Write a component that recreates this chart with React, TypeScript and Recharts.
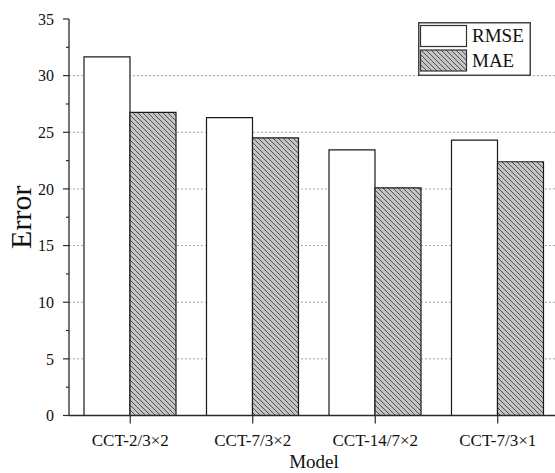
import { BarChart, Bar, XAxis, YAxis, CartesianGrid, Legend } from "recharts";

const models = ["CCT-2/3×2", "CCT-7/3×2", "CCT-14/7×2", "CCT-7/3×1"];
const rmseValues = [31.65, 26.3, 23.45, 24.3];
const maeValues = [26.75, 24.5, 20.1, 22.4];
const seriesOrder = ["RMSE", "MAE"];
const majorTicks = [0, 5, 10, 15, 20, 25, 30, 35];
const minorTicks = [2.5, 7.5, 12.5, 17.5, 22.5, 27.5, 32.5];
const gridValues = [5, 10, 15, 20, 25, 30];
const bandEdges = [0, 1, 2, 3, 4];

const data = models.map((model, i) => ({
  model,
  RMSE: rmseValues[i],
  MAE: maeValues[i],
}));

const SERIF = '"Liberation Serif", "Times New Roman", serif';
const AXIS = "#2b2b2b";
const textStyle = { fontFamily: SERIF };

function LeftTick(props: any) {
  const { x, y, payload } = props;
  const major = payload.value % 5 === 0;
  return (
    <g>
      <line x1={x - (major ? 6 : 3)} x2={x} y1={y} y2={y} stroke={AXIS} strokeWidth={1.2} />
      {major && (
        <text x={x - 15} y={y} dy="0.36em" textAnchor="end" fontSize={16} style={textStyle} fill="#111">
          {payload.value}
        </text>
      )}
    </g>
  );
}

function BottomTick(props: any) {
  const { x, y, payload } = props;
  return (
    <g>
      <line x1={x} x2={x} y1={y} y2={y + 8} stroke={AXIS} strokeWidth={1.2} />
      <text x={x} y={y + 30} textAnchor="middle" fontSize={17} style={textStyle} fill="#111">
        {payload.value}
      </text>
    </g>
  );
}

function YTitle(props: any) {
  const { viewBox } = props;
  const x = viewBox.x + 31;
  const y = viewBox.y + viewBox.height / 2;
  return (
    <text x={x} y={y} transform={`rotate(-90, ${x}, ${y})`} textAnchor="middle" fontSize={30} style={textStyle} fill="#111">
      Error
    </text>
  );
}

function XTitle(props: any) {
  const { viewBox } = props;
  return (
    <text x={viewBox.x + viewBox.width / 2} y={viewBox.y + 52.5} textAnchor="middle" fontSize={19} style={textStyle} fill="#111">
      Model
    </text>
  );
}

function LegendBox(props: any) {
  const items = [...(props.payload || [])].sort(
    (a: any, b: any) => seriesOrder.indexOf(a.value) - seriesOrder.indexOf(b.value),
  );
  return (
    <svg width={113} height={54} style={{ display: "block" }}>
      <rect x={0.75} y={0.75} width={111.5} height={52.5} fill="#fff" stroke="#444" strokeWidth={1.5} />
      {items.map((entry: any, i: number) => (
        <g key={entry.value}>
          <rect x={2.5} y={3.5 + i * 24.5} width={46} height={21} fill={entry.color} stroke="#333" strokeWidth={1.2} />
          <text x={54} y={20 + i * 24.5} fontSize={19} style={textStyle} fill="#111">
            {entry.value}
          </text>
        </g>
      ))}
    </svg>
  );
}

export default function App() {
  return (
    <div
      style={{
        position: "absolute",
        left: 0,
        top: 0,
        width: 555,
        height: 473,
        overflow: "hidden",
        background: "#fff",
        fontFamily: SERIF,
      }}
    >
      <BarChart
        width={580}
        height={473}
        data={data}
        margin={{ top: 19, right: 21, left: 0, bottom: 0 }}
        barCategoryGap={15}
        barGap={0}
      >
        <defs>
          <pattern id="hatch" patternUnits="userSpaceOnUse" width={5} height={5}>
            <rect width={5} height={5} fill="#c4c4c4" />
            <path d="M0,0 L5,5 M-1,4 L1,6 M4,-1 L6,1" stroke="#333" strokeWidth={0.8} />
          </pattern>
        </defs>
        <CartesianGrid vertical={false} horizontalValues={gridValues} stroke="#a6a6a6" strokeDasharray="2 2" />
        <XAxis
          xAxisId="minorBottom"
          type="number"
          domain={[0, 4]}
          ticks={bandEdges}
          allowDataOverflow
          interval={0}
          height={0}
          tick={false}
          tickSize={4}
          axisLine={false}
          stroke={AXIS}
        />
        <XAxis
          dataKey="model"
          height={57.5}
          interval={0}
          tickLine={false}
          tickSize={0}
          tickMargin={0}
          tick={<BottomTick />}
          stroke={AXIS}
          strokeWidth={1.3}
          label={<XTitle />}
        />
        <XAxis
          xAxisId="top"
          orientation="top"
          dataKey="model"
          mirror
          height={0}
          tick={false}
          tickSize={7}
          stroke={AXIS}
          strokeWidth={1.3}
        />
        <XAxis
          xAxisId="minorTop"
          orientation="top"
          type="number"
          domain={[0, 4]}
          ticks={bandEdges}
          allowDataOverflow
          interval={0}
          mirror
          height={0}
          tick={false}
          tickSize={4}
          axisLine={false}
          stroke={AXIS}
        />
        <YAxis
          width={69}
          domain={[0, 35]}
          ticks={[...majorTicks, ...minorTicks]}
          interval={0}
          tickLine={false}
          tickSize={0}
          tickMargin={0}
          tick={<LeftTick />}
          stroke={AXIS}
          strokeWidth={1.3}
          label={<YTitle />}
        />
        <YAxis
          yAxisId="right"
          orientation="right"
          mirror
          width={0}
          domain={[0, 35]}
          ticks={majorTicks}
          interval={0}
          tick={false}
          tickSize={7}
          stroke={AXIS}
          strokeWidth={1.3}
        />
        <Legend
          layout="vertical"
          align="center"
          verticalAlign="middle"
          content={<LegendBox />}
          wrapperStyle={{ left: 418, top: 22, width: 113, height: 54 }}
        />
        <Bar dataKey="RMSE" fill="#ffffff" stroke="#1a1a1a" strokeWidth={1.2} isAnimationActive={false} />
        <Bar dataKey="MAE" fill="url(#hatch)" stroke="#1a1a1a" strokeWidth={1.2} isAnimationActive={false} />
      </BarChart>
    </div>
  );
}
